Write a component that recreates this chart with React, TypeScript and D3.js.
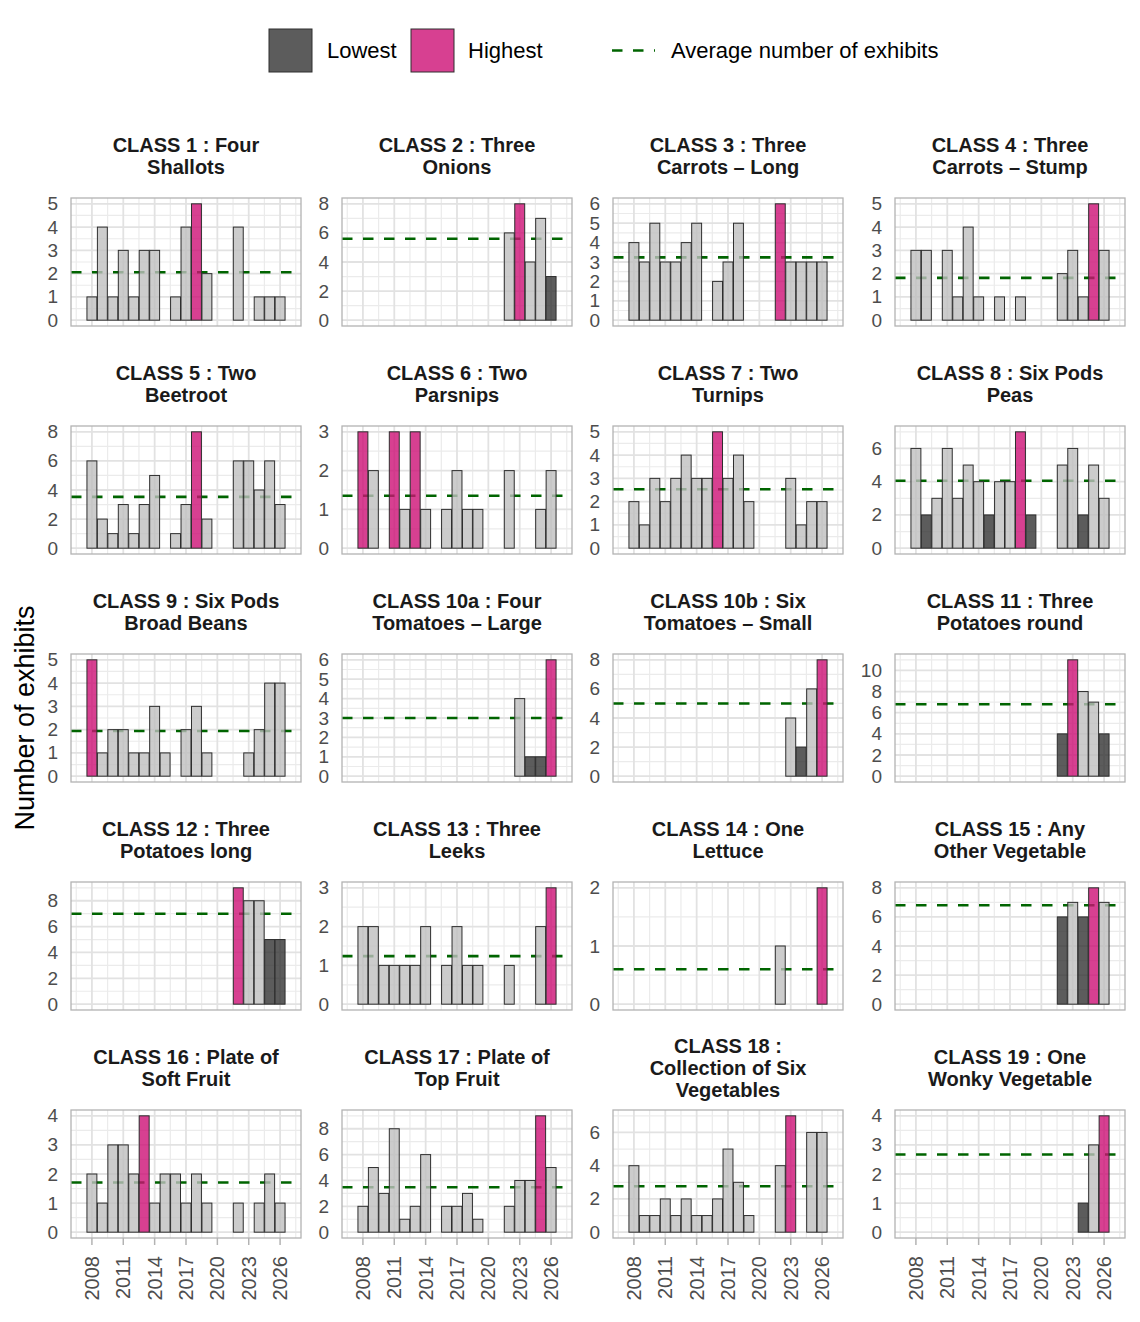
import React from "react";
import * as d3 from "d3";

// ---------------- DATA ----------------
const years: number[] = [
  2008, 2009, 2010, 2011, 2012, 2013, 2014, 2015, 2016, 2017,
  2018, 2019, 2020, 2021, 2022, 2023, 2024, 2025, 2026,
];
const xTickYears: number[] = [2008, 2011, 2014, 2017, 2020, 2023, 2026];

const classTitles: string[][] = [
  ["CLASS 1 : Four", "Shallots"],
  ["CLASS 2 : Three", "Onions"],
  ["CLASS 3 : Three", "Carrots – Long"],
  ["CLASS 4 : Three", "Carrots – Stump"],
  ["CLASS 5 : Two", "Beetroot"],
  ["CLASS 6 : Two", "Parsnips"],
  ["CLASS 7 : Two", "Turnips"],
  ["CLASS 8 : Six Pods", "Peas"],
  ["CLASS 9 : Six Pods", "Broad Beans"],
  ["CLASS 10a : Four", "Tomatoes – Large"],
  ["CLASS 10b : Six", "Tomatoes – Small"],
  ["CLASS 11 : Three", "Potatoes round"],
  ["CLASS 12 : Three", "Potatoes long"],
  ["CLASS 13 : Three", "Leeks"],
  ["CLASS 14 : One", "Lettuce"],
  ["CLASS 15 : Any", "Other Vegetable"],
  ["CLASS 16 : Plate of", "Soft Fruit"],
  ["CLASS 17 : Plate of", "Top Fruit"],
  ["CLASS 18 :", "Collection of Six", "Vegetables"],
  ["CLASS 19 : One", "Wonky Vegetable"],
];

const N = null;
// values per year 2008..2026 (null = no entry)
const class1 = [1, 4, 1, 3, 1, 3, 3, N, 1, 4, 5, 2, N, N, 4, N, 1, 1, 1];
const class2 = [N, N, N, N, N, N, N, N, N, N, N, N, N, N, 6, 8, 4, 7, 3];
const class3 = [4, 3, 5, 3, 3, 4, 5, N, 2, 3, 5, N, N, N, 6, 3, 3, 3, 3];
const class4 = [3, 3, N, 3, 1, 4, 1, N, 1, N, 1, N, N, N, 2, 3, 1, 5, 3];
const class5 = [6, 2, 1, 3, 1, 3, 5, N, 1, 3, 8, 2, N, N, 6, 6, 4, 6, 3];
const class6 = [3, 2, N, 3, 1, 3, 1, N, 1, 2, 1, 1, N, N, 2, N, N, 1, 2];
const class7 = [2, 1, 3, 2, 3, 4, 3, 3, 5, 3, 4, 2, N, N, N, 3, 1, 2, 2];
const class8 = [6, 2, 3, 6, 3, 5, 4, 2, 4, 4, 7, 2, N, N, 5, 6, 2, 5, 3];
const class9 = [5, 1, 2, 2, 1, 1, 3, 1, N, 2, 3, 1, N, N, N, 1, 2, 4, 4];
const class10a = [N, N, N, N, N, N, N, N, N, N, N, N, N, N, N, 4, 1, 1, 6];
const class10b = [N, N, N, N, N, N, N, N, N, N, N, N, N, N, N, 4, 2, 6, 8];
const class11 = [N, N, N, N, N, N, N, N, N, N, N, N, N, N, 4, 11, 8, 7, 4];
const class12 = [N, N, N, N, N, N, N, N, N, N, N, N, N, N, 9, 8, 8, 5, 5];
const class13 = [2, 2, 1, 1, 1, 1, 2, N, 1, 2, 1, 1, N, N, 1, N, N, 2, 3];
const class14 = [N, N, N, N, N, N, N, N, N, N, N, N, N, N, 1, N, N, N, 2];
const class15 = [N, N, N, N, N, N, N, N, N, N, N, N, N, N, 6, 7, 6, 8, 7];
const class16 = [2, 1, 3, 3, 2, 4, 1, 2, 2, 1, 2, 1, N, N, 1, N, 1, 2, 1];
const class17 = [2, 5, 3, 8, 1, 2, 6, N, 2, 2, 3, 1, N, N, 2, 4, 4, 9, 5];
const class18 = [4, 1, 1, 2, 1, 2, 1, 1, 2, 5, 3, 1, N, N, 4, 7, N, 6, 6];
const class19 = [N, N, N, N, N, N, N, N, N, N, N, N, N, N, N, N, 1, 3, 4];

const seriesValues: (number | null)[][] = [
  class1, class2, class3, class4, class5, class6, class7, class8, class9, class10a,
  class10b, class11, class12, class13, class14, class15, class16, class17, class18, class19,
];

const highestYears: number[][] = [
  [2018], [2023], [2022], [2025], [2018], [2008, 2011, 2013], [2016], [2018], [2008], [2026],
  [2026], [2023], [2022], [2026], [2026], [2025], [2013], [2025], [2023], [2026],
];
const lowestYears: number[][] = [
  [], [2026], [], [], [], [], [], [2009, 2015, 2019, 2024], [], [2024, 2025],
  [2024], [2022, 2026], [2025, 2026], [], [], [2022, 2024], [], [], [], [2024],
];

const averages: number[] = [
  2.06, 5.6, 3.24, 1.82, 3.53, 1.35, 2.53, 4.06, 1.94, 3.0,
  5.0, 6.8, 7.0, 1.24, 0.6, 6.8, 1.71, 3.47, 2.76, 2.67,
];

const yTickStep: number[] = [1, 2, 1, 1, 2, 1, 1, 2, 1, 1, 2, 2, 2, 1, 1, 2, 1, 2, 2, 1];

const legendLabels = { lowest: "Lowest", highest: "Highest", average: "Average number of exhibits" };
const yAxisTitle = "Number of exhibits";

// ---------------- STYLE / LAYOUT ----------------
const W = 1140;
const H = 1322;
const FONT = "'Liberation Sans', Arial, Helvetica, sans-serif";
const colLefts = [71, 342, 613, 895];
const rowTops = [198, 426, 654, 882, 1110];
const PW = 230;
const PH = 128;

const FILL_NORMAL = "#BFBFBF";
const FILL_LOW = "#333333";
const FILL_HIGH = "#CD1076";
const FILL_OPACITY = 0.8;
const BAR_STROKE = "#2E2E2E";
const AVG_COLOR = "#006400";
const GRID_MAJOR = "#E2E2E2";
const GRID_MINOR = "#EBEBEB";
const BORDER = "#B3B3B3";

function Panel({ idx }: { idx: number }) {
  const row = Math.floor(idx / 4);
  const col = idx % 4;
  const left = colLefts[col];
  const top = rowTops[row];
  const vals = seriesValues[idx];
  const maxV = d3.max(vals.filter((v) => v != null) as number[]) as number;
  const x = d3.scaleLinear().domain([2006, 2028]).range([left, left + PW]);
  const y = d3.scaleLinear().domain([-0.05 * maxV, maxV * 1.05]).range([top + PH, top]);
  const step = yTickStep[idx];
  const yTicks = d3.range(0, maxV * 1.05 + 1e-9, step);
  const yMinor = d3
    .range(-step / 2, maxV * 1.05 + step, step)
    .filter((v) => v > y.domain()[0] && v < y.domain()[1]);
  const xMinor = [2006.5, ...xTickYears.map((t) => t + 1.5)].filter((v) => v < 2028);
  const titleLines = classTitles[idx];
  const center = left + PW / 2;
  const titleMid = top - 42;
  const bw = 0.95;
  const isBottom = row === rowTops.length - 1;

  return (
    <g>
      {titleLines.map((t, i) => (
        <text
          key={i}
          x={center}
          y={titleMid + (i - (titleLines.length - 1) / 2) * 22}
          textAnchor="middle"
          dominantBaseline="central"
          fontFamily={FONT}
          fontWeight="bold"
          fontSize={20}
          fill="#1A1A1A"
        >
          {t}
        </text>
      ))}
      <rect x={left} y={top} width={PW} height={PH} fill="#FFFFFF" />
      {/* minor grid */}
      {xMinor.map((v) => (
        <line key={"xm" + v} x1={x(v)} x2={x(v)} y1={top} y2={top + PH} stroke={GRID_MINOR} strokeWidth={1.2} />
      ))}
      {yMinor.map((v) => (
        <line key={"ym" + v} x1={left} x2={left + PW} y1={y(v)} y2={y(v)} stroke={GRID_MINOR} strokeWidth={1.2} />
      ))}
      {/* major grid */}
      {xTickYears.map((v) => (
        <line key={"xM" + v} x1={x(v)} x2={x(v)} y1={top} y2={top + PH} stroke={GRID_MAJOR} strokeWidth={1.8} />
      ))}
      {yTicks.map((v) => (
        <line key={"yM" + v} x1={left} x2={left + PW} y1={y(v)} y2={y(v)} stroke={GRID_MAJOR} strokeWidth={1.8} />
      ))}
      {/* average line (beneath bars) */}
      <line
        x1={left}
        x2={left + PW}
        y1={y(averages[idx])}
        y2={y(averages[idx])}
        stroke={AVG_COLOR}
        strokeWidth={2.6}
        strokeDasharray="10.5 10.5"
      />
      {/* bars */}
      {vals.map((v, i) => {
        if (v == null) return null;
        const yr = years[i];
        let fill = FILL_NORMAL;
        if (highestYears[idx].includes(yr)) fill = FILL_HIGH;
        else if (lowestYears[idx].includes(yr)) fill = FILL_LOW;
        const x0 = x(yr - bw / 2);
        const x1 = x(yr + bw / 2);
        return (
          <rect
            key={yr}
            x={x0}
            y={y(v)}
            width={x1 - x0}
            height={y(0) - y(v)}
            fill={fill}
            fillOpacity={FILL_OPACITY}
            stroke={BAR_STROKE}
            strokeWidth={1}
          />
        );
      })}
      <rect x={left} y={top} width={PW} height={PH} fill="none" stroke={BORDER} strokeWidth={1.3} />
      {/* y tick labels */}
      {yTicks.map((v) => (
        <text
          key={"yl" + v}
          x={left - 13}
          y={y(v)}
          textAnchor="end"
          dominantBaseline="central"
          fontFamily={FONT}
          fontSize={19}
          fill="#4D4D4D"
        >
          {v}
        </text>
      ))}
      {isBottom &&
        xTickYears.map((v) => (
          <g key={"xt" + v}>
            <line x1={x(v)} x2={x(v)} y1={top + PH} y2={top + PH + 7} stroke={BORDER} strokeWidth={1.5} />
            <text
              transform={`translate(${x(v)},${top + PH + 18}) rotate(-90)`}
              textAnchor="end"
              dy="0.35em"
              fontFamily={FONT}
              fontSize={20}
              fill="#4D4D4D"
            >
              {v}
            </text>
          </g>
        ))}
    </g>
  );
}

function Legend() {
  const ky = 29;
  const ks = 43;
  return (
    <g fontFamily={FONT} fontSize={22} fill="#000">
      <rect x={269} y={ky} width={ks} height={ks} fill={FILL_LOW} fillOpacity={FILL_OPACITY} stroke={BAR_STROKE} strokeWidth={1} />
      <text x={327} y={ky + ks / 2} dominantBaseline="central">{legendLabels.lowest}</text>
      <rect x={411} y={ky} width={ks} height={ks} fill={FILL_HIGH} fillOpacity={FILL_OPACITY} stroke={BAR_STROKE} strokeWidth={1} />
      <text x={468} y={ky + ks / 2} dominantBaseline="central">{legendLabels.highest}</text>
      <line x1={612} x2={655} y1={ky + ks / 2} y2={ky + ks / 2} stroke={AVG_COLOR} strokeWidth={2.6} strokeDasharray="10.5 10.5" />
      <text x={671} y={ky + ks / 2} dominantBaseline="central">{legendLabels.average}</text>
    </g>
  );
}

export default function App() {
  return (
    <svg
      width={W}
      height={H}
      viewBox={`0 0 ${W} ${H}`}
      style={{ position: "absolute", left: 0, top: 0, display: "block", background: "#fff" }}
    >
      <rect width={W} height={H} fill="#FFFFFF" />
      <Legend />
      {seriesValues.map((_, i) => (
        <Panel key={i} idx={i} />
      ))}
      <text
        transform={`translate(25,718) rotate(-90)`}
        textAnchor="middle"
        dy="0.35em"
        fontFamily={FONT}
        fontSize={27}
        fill="#000"
      >
        {yAxisTitle}
      </text>
    </svg>
  );
}
